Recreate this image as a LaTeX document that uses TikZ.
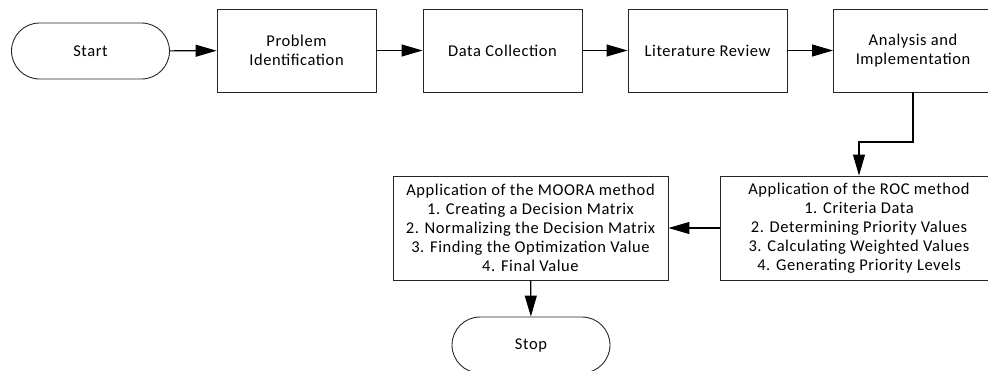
\documentclass[tikz,border=0pt]{standalone}
\usepackage{fontspec}
\setmainfont{Carlito}[LetterSpace=3.5]
\usetikzlibrary{arrows.meta}
\tikzset{
  x=1pt, y=1pt,
  base/.style={draw=black!85, line width=0.9pt, inner sep=2pt, align=center,
    font=\fontsize{16.5}{19}\selectfont, text=black},
  procbox/.style={base, minimum width=159pt, minimum height=83pt},
  bigbox/.style={base, minimum height=104pt},
  term/.style={base, minimum width=158pt, minimum height=56pt, rounded corners=28pt},
  arr/.style={line width=1.1pt, -{Triangle[length=21pt, width=12pt]}}
}
\begin{document}
\begin{tikzpicture}
\clip (0,0) rectangle (988,-370);
\node[term] (start) at (90.5,-51) {Start};
\node[procbox] (pi) at (296.5,-50.5) {Problem\\Identification};
\node[procbox] (dc) at (502.5,-50.5) {Data Collection};
\node[procbox] (lr) at (707.5,-50.5) {Literature Review};
\node[procbox] (ai) at (913,-50.5) {Analysis and\\Implementation};
\node[bigbox, minimum width=278pt] (roc) at (859,-228) {Application of the ROC method\\1. Criteria Data\\2. Determining Priority Values\\3. Calculating Weighted Values\\4. Generating Priority Levels};
\node[bigbox, minimum width=275pt] (moora) at (530.5,-228) {Application of the MOORA method\\1. Creating a Decision Matrix\\2. Normalizing the Decision Matrix\\3. Finding the Optimization Value\\4. Final Value};
\node[term] (stop) at (531,-345) {Stop};
\coordinate (bend) at (913,-142);
\draw[arr] (start) -- (pi);
\draw[arr] (pi) -- (dc);
\draw[arr] (dc) -- (lr);
\draw[arr] (lr) -- (ai);
\draw[arr] (ai.south) -- (bend) -| (roc.north);
\draw[arr] (roc) -- (moora);
\draw[arr] (moora) -- (stop);
\end{tikzpicture}
\end{document}
